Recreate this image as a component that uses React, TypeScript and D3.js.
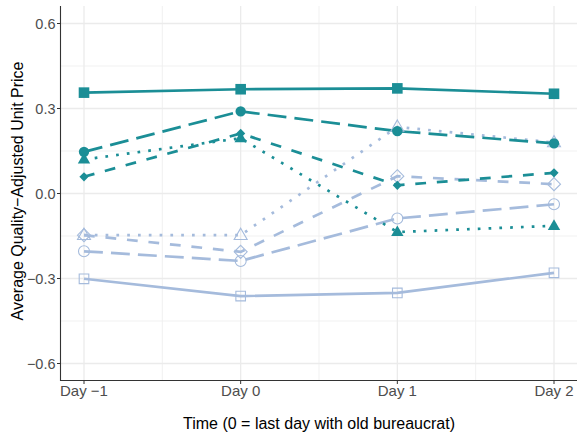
import React from "react";
import * as d3 from "d3";

const days = [-1, 0, 1, 2];
const dayLabels = ["Day \u22121", "Day 0", "Day 1", "Day 2"];
const yTicks = [-0.6, -0.3, 0, 0.3, 0.6];
const yTickLabels = ["\u22120.6", "\u22120.3", "0.0", "0.3", "0.6"];
const yMinor = [-0.45, -0.15, 0.15, 0.45];
const xMinor = [-0.5, 0.5, 1.5];

// teal series
const tealSolidSquare = [0.356, 0.368, 0.371, 0.352];
const tealLongdashCircle = [0.147, 0.29, 0.22, 0.177];
const tealDottedTriangle = [0.12, 0.195, -0.136, -0.114];
const tealDashedDiamond = [0.059, 0.212, 0.029, 0.073];
// light blue series
const blueSolidSquare = [-0.301, -0.362, -0.351, -0.28];
const blueLongdashCircle = [-0.204, -0.238, -0.088, -0.038];
const blueDottedTriangle = [-0.147, -0.147, 0.235, 0.18];
const blueDashedDiamond = [-0.147, -0.206, 0.061, 0.033];

const TEAL = "#1b8e96";
const BLUE = "#a5bbdc";

type Series = { values: number[]; color: string; lt: string; shape: string; filled: boolean };

const series: Series[] = [
  { values: blueSolidSquare, color: BLUE, lt: "solid", shape: "square", filled: false },
  { values: blueLongdashCircle, color: BLUE, lt: "longdash", shape: "circle", filled: false },
  { values: blueDashedDiamond, color: BLUE, lt: "dashed", shape: "diamond", filled: false },
  { values: blueDottedTriangle, color: BLUE, lt: "dotted", shape: "triangle", filled: false },
  { values: tealSolidSquare, color: TEAL, lt: "solid", shape: "square", filled: true },
  { values: tealLongdashCircle, color: TEAL, lt: "longdash", shape: "circle", filled: true },
  { values: tealDashedDiamond, color: TEAL, lt: "dashed", shape: "diamond", filled: true },
  { values: tealDottedTriangle, color: TEAL, lt: "dotted", shape: "triangle", filled: true },
];

const W = 577;
const H = 436;
const LW = 2.7;
const dashes: Record<string, string | undefined> = {
  solid: undefined,
  dashed: `${4 * LW} ${4 * LW}`,
  dotted: `${1 * LW} ${3 * LW}`,
  longdash: `${7 * LW} ${3 * LW}`,
};

function shapePath(shape: string, filled: boolean, x: number, y: number): string {
  if (shape === "square") {
    const h = filled ? 5.3 : 4.8;
    return `M${x - h},${y - h}H${x + h}V${y + h}H${x - h}Z`;
  }
  if (shape === "circle") {
    const r = filled ? 5.2 : 5.5;
    return `M${x - r},${y}A${r},${r} 0 1,0 ${x + r},${y}A${r},${r} 0 1,0 ${x - r},${y}Z`;
  }
  if (shape === "triangle") {
    const s = filled ? 6.2 : 6.5;
    const hgt = s * 1.732;
    return `M${x},${y - hgt * 0.62}L${x + s},${y + hgt * 0.38}L${x - s},${y + hgt * 0.38}Z`;
  }
  const d = filled ? 4.6 : 6.5;
  return `M${x},${y - d}L${x + d},${y}L${x},${y + d}L${x - d},${y}Z`;
}

export default function App() {
  const x = d3.scaleLinear().domain([-1.15, 2.15]).range([60.5, 577.5]);
  const y = d3.scaleLinear().domain([-0.66, 0.66]).range([380.5, 6.5]);
  const line = d3
    .line<number>()
    .x((_, i) => x(days[i]))
    .y((v) => y(v));
  const font = "'Liberation Sans', Arial, sans-serif";

  return (
    <svg width={W} height={H} style={{ position: "absolute", left: 0, top: 0, background: "#fff" }} fontFamily={font}>
      <rect x={0} y={0} width={W} height={H} fill="#fff" />
      {/* minor grid */}
      {yMinor.map((v) => (
        <line key={"ym" + v} x1={60.5} x2={577.5} y1={y(v)} y2={y(v)} stroke="#efefef" strokeWidth={0.9} />
      ))}
      {xMinor.map((v) => (
        <line key={"xm" + v} x1={x(v)} x2={x(v)} y1={6} y2={381} stroke="#efefef" strokeWidth={0.9} />
      ))}
      {/* major grid */}
      {yTicks.map((v) => (
        <line key={"yM" + v} x1={60.5} x2={577.5} y1={y(v)} y2={y(v)} stroke="#ebebeb" strokeWidth={1.3} />
      ))}
      {days.map((v) => (
        <line key={"xM" + v} x1={x(v)} x2={x(v)} y1={6} y2={381} stroke="#ebebeb" strokeWidth={1.3} />
      ))}
      {/* lines */}
      {series.map((s, i) => (
        <path
          key={"l" + i}
          d={line(s.values) || ""}
          fill="none"
          stroke={s.color}
          strokeWidth={LW}
          strokeDasharray={dashes[s.lt]}
          strokeLinecap="butt"
        />
      ))}
      {/* points */}
      {series.map((s, i) =>
        s.values.map((v, j) => (
          <path
            key={"p" + i + "-" + j}
            d={shapePath(s.shape, s.filled, x(days[j]), y(v))}
            fill={s.filled ? s.color : "none"}
            stroke={s.color}
            strokeWidth={s.filled ? 0 : 1.1}
          />
        ))
      )}
      {/* axes */}
      <line x1={60.5} x2={60.5} y1={6} y2={381} stroke="#333" strokeWidth={1.1} />
      <line x1={60} x2={577.5} y1={380.5} y2={380.5} stroke="#333" strokeWidth={1.1} />
      {yTicks.map((v, i) => (
        <g key={"yt" + v}>
          <line x1={57} x2={60.5} y1={y(v)} y2={y(v)} stroke="#333" strokeWidth={1} />
          <text x={55.5} y={y(v)} dy="0.36em" textAnchor="end" fontSize={14.5} fill="#4d4d4d">
            {yTickLabels[i]}
          </text>
        </g>
      ))}
      {days.map((v, i) => (
        <g key={"xt" + v}>
          <line x1={x(v)} x2={x(v)} y1={380.5} y2={384} stroke="#333" strokeWidth={1} />
          <text x={x(v)} y={395.5} textAnchor="middle" fontSize={15} fill="#4d4d4d">
            {dayLabels[i]}
          </text>
        </g>
      ))}
      <text x={319} y={429} textAnchor="middle" fontSize={16} fill="#000">
        Time (0 = last day with old bureaucrat)
      </text>
      <text
        transform={`translate(22.5,191) rotate(-90)`}
        textAnchor="middle"
        fontSize={16}
        fill="#000"
      >
        Average Quality{"\u2212"}Adjusted Unit Price
      </text>
    </svg>
  );
}
